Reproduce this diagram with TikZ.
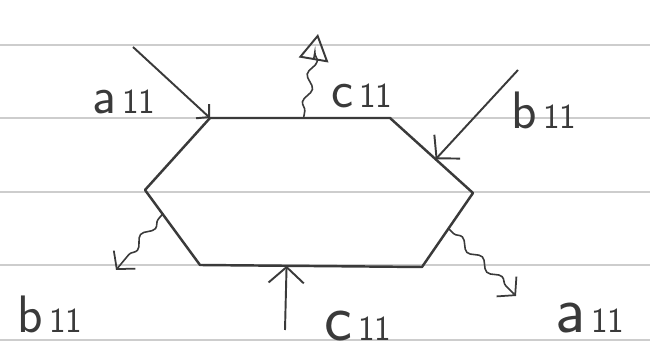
\documentclass[tikz,border=0pt]{standalone}
\usepackage{tikz}
\usetikzlibrary{arrows.meta, calc, decorations.pathmorphing}
\definecolor{PaperLine}{HTML}{CDCDCD}
\definecolor{Pencil}{HTML}{3A3A3A}
\newcommand{\elem}[1]{#1{\fontsize{20}{20}\selectfont\,11}}

\begin{document}
\begin{tikzpicture}[
        x=0.02cm, y=-0.02cm,
        every node/.style={font=\sffamily\fontsize{30}{30}\selectfont, text=Pencil, inner sep=0pt},
        ruled/.style={PaperLine, line width=1.2pt},
        cell/.style={Pencil, line width=1.4pt, line join=round},
        inarr/.style={Pencil, line width=1.1pt, -{Straight Barb[length=9pt, width=20pt, line width=1.1pt]}},
        outarr/.style={Pencil, line width=0.9pt, decorate,
            decoration={snake, amplitude=2.2pt, segment length=16pt, pre length=4pt, post length=8pt},
            -{Straight Barb[length=7pt, width=16pt, line width=1pt]}},
        bigtxt/.style={font=\sffamily\fontsize{38}{38}\selectfont}
    ]
        \useasboundingbox (0,0) rectangle (650,357);
        \fill[white] (0,0) rectangle (650,357);

        % ruled paper
        \foreach \yy in {45,118,192,265,340}
            \draw[ruled] (0,\yy) -- (650,\yy);

        % processing cell
        \coordinate (tl) at (210,118);
        \coordinate (tr) at (390,118);
        \coordinate (r) at (473,193);
        \coordinate (br) at (422,267);
        \coordinate (bl) at (200,265);
        \coordinate (l) at (145,190);
        \draw[cell] (tl) -- (tr) -- (r) -- (br) -- (bl) -- (l) -- cycle;

        % ports on the cell
        \coordinate (ain) at (tl);
        \coordinate (bin) at ($(tr)!0.55!(r)$);
        \coordinate (cin) at ($(bl)!0.39!(br)$);
        \coordinate (cout) at ($(tl)!0.52!(tr)$);
        \coordinate (bout) at ($(l)!0.32!(bl)$);
        \coordinate (aout) at ($(r)!0.48!(br)$);

        % free ends
        \coordinate (a0) at (133,47);
        \coordinate (b0) at (518,70);
        \coordinate (c0) at (285,330);
        \coordinate (c1) at (318,34);
        \coordinate (b1) at (116,270);
        \coordinate (a1) at (516,296);

        % labels
        \node (alab) at (124,102) {\elem{a}};
        \node (clab) at (362,96) {\elem{c}};
        \node (blab) at (544,110) {\elem{b}};
        \node (blab2) at (50,314) {\elem{b}};
        \node[bigtxt] (clab2) at (358,326) {\elem{c}};
        \node[bigtxt] (alab2) at (590,318) {\elem{a}};

        % inputs
        \draw[inarr, -{Straight Barb[length=5pt, width=11pt, line width=1.1pt]}] (a0) -- (ain);
        \draw[inarr] (b0) -- (bin);
        \draw[inarr] (c0) -- (cin);

        % outputs
        \draw[outarr, -{Triangle[open, length=15pt, width=17pt, line width=1.1pt]}] (cout) -- (c1);
        \draw[outarr] (bout) -- (b1);
        \draw[outarr] (aout) -- (a1);
    \end{tikzpicture}
\end{document}
